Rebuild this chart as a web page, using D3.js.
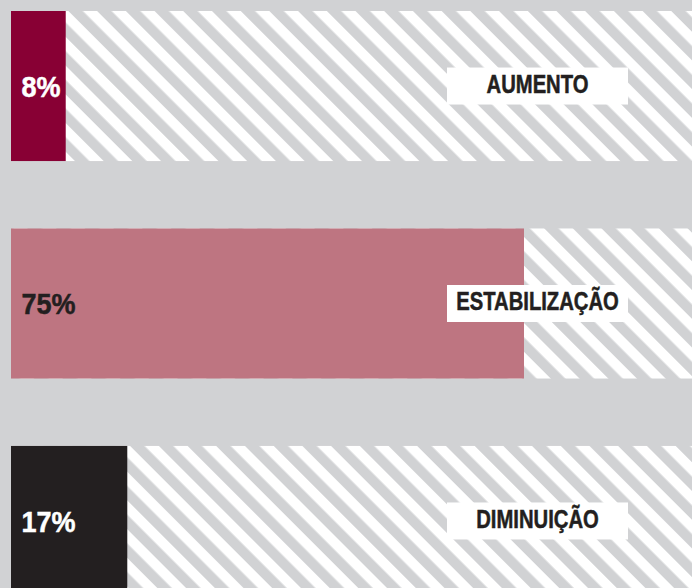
<!DOCTYPE html>
<html><head><meta charset="utf-8">
<script src="https://cdn.jsdelivr.net/npm/d3@7"></script>
<style>html,body{margin:0;padding:0;background:#d1d2d4;}svg{display:block;}</style>
</head><body>
<svg id="chart" width="692" height="588"></svg>
<script>
const categories = ["AUMENTO", "ESTABILIZAÇÃO", "DIMINUIÇÃO"];
const values = [8, 75, 17];
const barColors = ["#880034", "#be7581", "#231f20"];
const valueTextColors = ["#ffffff", "#231f20", "#ffffff"];

const W = 692, H = 588;
const svg = d3.select("#chart");
svg.append("rect").attr("width", W).attr("height", H).attr("fill", "#d1d2d4");

const defs = svg.append("defs");
const P = 20.3;
const pat = defs.append("pattern").attr("id", "stripes")
  .attr("patternUnits", "userSpaceOnUse").attr("width", P).attr("height", P)
  .attr("patternTransform", "rotate(-45)");
pat.append("rect").attr("width", P).attr("height", P).attr("fill", "#ffffff");
pat.append("rect").attr("width", 10.2).attr("height", P).attr("fill", "#d1d2d4");

const x = d3.scaleLinear().domain([0, 100]).range([11, 695]);
const y = d3.scaleBand().domain(categories).range([11, 596]).paddingInner(0.31).paddingOuter(0);

const rows = svg.selectAll("g.row").data(categories).join("g").attr("class", "row");

rows.append("rect")
  .attr("x", x(0)).attr("y", d => y(d))
  .attr("width", x(100) - x(0)).attr("height", y.bandwidth())
  .attr("fill", "url(#stripes)");

rows.append("rect")
  .attr("x", x(0)).attr("y", d => y(d))
  .attr("width", (d, i) => x(values[i]) - x(0)).attr("height", y.bandwidth())
  .attr("fill", (d, i) => barColors[i]);

const font = "'Liberation Sans', Arial, sans-serif";
const cy = d => y(d) + y.bandwidth() / 2;

rows.append("text")
  .attr("transform", d => `translate(21.5,${cy(d) + 10.8}) scale(0.9,1)`)
  .attr("font-family", font).attr("font-weight", "bold").attr("font-size", 30)
  .attr("fill", (d, i) => valueTextColors[i])
  .attr("stroke", (d, i) => valueTextColors[i]).attr("stroke-width", 0.5)
  .text((d, i) => values[i] + "%");

rows.append("rect")
  .attr("x", 447).attr("y", d => cy(d) - 18.5)
  .attr("width", 181).attr("height", 37)
  .attr("fill", "#ffffff");

rows.append("text")
  .attr("transform", d => `translate(537.5,${cy(d) + 6.8}) scale(0.81,1)`)
  .attr("text-anchor", "middle")
  .attr("font-family", font).attr("font-weight", "bold").attr("font-size", 25)
  .attr("fill", "#231f20").attr("stroke", "#231f20").attr("stroke-width", 0.5)
  .text(d => d);
</script>
</body></html>
